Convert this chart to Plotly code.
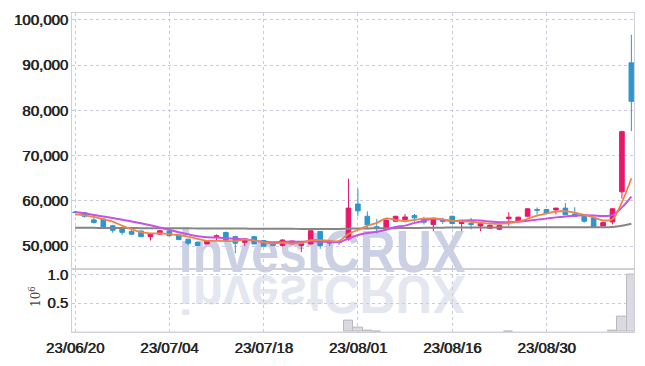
import base64
import plotly.graph_objects as go

# ---------------- data ----------------
dates = ["23/06/20", "23/06/21", "23/06/22", "23/06/23", "23/06/26", "23/06/27", "23/06/28", "23/06/29", "23/06/30", "23/07/03",
         "23/07/04", "23/07/05", "23/07/06", "23/07/07", "23/07/10", "23/07/11", "23/07/12", "23/07/13", "23/07/14", "23/07/17",
         "23/07/18", "23/07/19", "23/07/20", "23/07/21", "23/07/24", "23/07/25", "23/07/26", "23/07/27", "23/07/28", "23/07/31",
         "23/08/01", "23/08/02", "23/08/03", "23/08/04", "23/08/07", "23/08/08", "23/08/09", "23/08/10", "23/08/11", "23/08/14",
         "23/08/16", "23/08/17", "23/08/18", "23/08/21", "23/08/22", "23/08/23", "23/08/24", "23/08/25", "23/08/28", "23/08/29",
         "23/08/30", "23/08/31", "23/09/01", "23/09/04", "23/09/05", "23/09/06", "23/09/07", "23/09/08", "23/09/11", "23/09/12"]

opens = [57500, 57400, 55800, 56000, 54500, 54100, 53250, 53350, 52100, 52650,
         53350, 52500, 51550, 50850, 50500, 51950, 53000, 52100, 50850, 52100,
         51250, 50650, 50150, 50500, 50150, 50500, 53250, 50900, 50850, 51600,
         59300, 56600, 54300, 53700, 55500, 55900, 56750, 56000, 54800, 55700,
         56600, 55000, 55000, 54450, 53950, 53750, 56100, 55550, 56600, 58100,
         58100, 58000, 58400, 57100, 56600, 56250, 54450, 55350, 62000, 90500]
highs = [57800, 57500, 57100, 56100, 54700, 54200, 54300, 53400, 52800, 53500,
         53500, 52700, 51600, 50900, 51300, 52600, 53200, 52300, 51600, 52200,
         51300, 50700, 51500, 51200, 50700, 53500, 53300, 51100, 51000, 64900,
         62700, 57700, 56000, 55900, 56700, 57100, 57100, 56500, 56200, 56300,
         56700, 55800, 56250, 55100, 54800, 54700, 57500, 56500, 58400, 58550,
         58200, 58450, 59500, 58600, 56700, 56300, 55400, 58400, 75500, 96700]
lows = [57300, 56300, 55000, 54100, 52950, 52500, 52450, 52000, 51250, 52500,
        52200, 51400, 50200, 50100, 50400, 51200, 51100, 48400, 50000, 50400,
        49900, 50050, 49900, 50400, 48700, 50400, 49400, 50000, 50300, 51200,
        56600, 53900, 52800, 53500, 55300, 55400, 55400, 54800, 53300, 54900,
        54900, 53300, 53700, 53300, 53800, 53600, 54500, 55500, 56500, 57000,
        57000, 57000, 56900, 56400, 55200, 54100, 54400, 54800, 60500, 75400]
closes = [57450, 56600, 55250, 54250, 53500, 53050, 52650, 52100, 52800, 53400,
          52300, 51450, 50650, 50150, 51250, 52300, 51300, 50650, 51600, 50500,
          50000, 50150, 51350, 51100, 50650, 53400, 50150, 50700, 50800, 58400,
          57800, 54700, 54000, 55750, 56600, 56450, 56250, 55300, 56000, 55500,
          55000, 55650, 54800, 54950, 54600, 54600, 56400, 56400, 58250, 57950,
          57200, 58400, 56950, 56600, 55500, 54250, 55200, 58250, 75300, 82000]

ma5 = [57000, 56800, 56450, 55950, 55410, 54530, 53740, 53110, 52820, 52800,
       52650, 52410, 52120, 51590, 51160, 51160, 51130, 51130, 51420, 51270,
       50810, 50580, 50720, 50620, 50650, 51330, 51330, 51200, 51140, 52690,
       53570, 54480, 55140, 56130, 55770, 55500, 55810, 56070, 56120, 55900,
       55610, 55490, 55390, 55180, 55000, 54920, 55070, 55390, 56050, 56720,
       57240, 57640, 57750, 57420, 56930, 56340, 55700, 55960, 59700, 65000]
ma10 = [57550, 57250, 56900, 56550, 56200, 55850, 55450, 55050, 54600, 54105,
        53590, 53075, 52615, 52205, 51980, 51905, 51770, 51625, 51505, 51215,
        50985, 50855, 50925, 51020, 50960, 51070, 50955, 50960, 50880, 51670,
        52450, 52905, 53170, 53635, 54230, 54535, 55145, 55605, 56125, 55835,
        55555, 55650, 55730, 55650, 55450, 55265, 55280, 55390, 55615, 55860,
        56080, 56355, 56570, 56735, 56825, 56790, 56670, 56855, 58560, 60965]
ma60 = [54050, 54050, 54040, 54030, 54020, 54000, 53990, 53980, 53970, 53960,
        53950, 53940, 53930, 53920, 53910, 53900, 53890, 53880, 53870, 53860,
        53850, 53840, 53830, 53820, 53810, 53800, 53800, 53800, 53800, 53850,
        53900, 53920, 53940, 53960, 53980, 54000, 54020, 54040, 54060, 54080,
        54100, 54110, 54120, 54130, 54140, 54150, 54160, 54170, 54180, 54190,
        54200, 54200, 54200, 54200, 54200, 54180, 54160, 54250, 54530, 54940]

# volume in millions of shares
volume = [0.004, 0.003, 0.003, 0.004, 0.003, 0.003, 0.002, 0.003, 0.002, 0.003,
          0.002, 0.003, 0.003, 0.002, 0.002, 0.003, 0.003, 0.004, 0.002, 0.003,
          0.002, 0.002, 0.003, 0.002, 0.003, 0.006, 0.005, 0.003, 0.003, 0.190,
          0.085, 0.020, 0.015, 0.006, 0.005, 0.004, 0.004, 0.003, 0.005, 0.003,
          0.004, 0.004, 0.004, 0.003, 0.003, 0.003, 0.010, 0.004, 0.006, 0.004,
          0.004, 0.004, 0.005, 0.004, 0.004, 0.005, 0.004, 0.020, 0.270, 0.990]

price_ticks = [50000, 60000, 70000, 80000, 90000, 100000]
vol_ticks = [0.5, 1.0]
vol_tick_text = ["0.5", "1.0"]
vol_unit = "10<sup>6</sup>"

# ---------------- styles ----------------
INC = "#e6186b"
DEC = "#2c96cf"
GRID = "#c9cadf"
BORDER = "#cfd0d8"
FONT = "Liberation Sans Narrow, Arial Narrow, sans-serif"

idx = list(range(len(dates)))
tick_pos = idx[::10]
tick_text = dates[::10]
xr = [-0.32, 59.28]
vol_outline = [1 if v >= 0.01 else 0 for v in volume]

fig = go.Figure()
fig.add_trace(go.Candlestick(
    x=idx, open=opens, high=highs, low=lows, close=closes,
    increasing=dict(line=dict(color=INC, width=1), fillcolor=INC),
    decreasing=dict(line=dict(color=DEC, width=1), fillcolor=DEC),
    whiskerwidth=0, xaxis="x", yaxis="y", showlegend=False, name="price"))
fig.add_trace(go.Scatter(x=idx, y=ma60, mode="lines", line=dict(color="#858585", width=2, shape="spline"),
                         xaxis="x", yaxis="y", showlegend=False))
fig.add_trace(go.Scatter(x=idx, y=ma10, mode="lines", line=dict(color="#c452e4", width=2, shape="spline"),
                         xaxis="x", yaxis="y", showlegend=False))
fig.add_trace(go.Scatter(x=idx, y=ma5, mode="lines", line=dict(color="#f08448", width=1.8, shape="spline"),
                         xaxis="x", yaxis="y", showlegend=False))
fig.add_trace(go.Bar(x=idx, y=volume,
                     marker=dict(color="#dadae0", line=dict(color="#b9b9c2", width=vol_outline)),
                     xaxis="x2", yaxis="y2", showlegend=False))

# watermark with reflection (svg image)
svg = (
    "<svg xmlns='http://www.w3.org/2000/svg' width='300' height='100' viewBox='0 0 300 100'>"
    "<text x='3' y='51' font-family='Liberation Sans, Arial, sans-serif' font-weight='bold' font-size='60' "
    "fill='#cbd0e4' textLength='287' lengthAdjust='spacingAndGlyphs'>investCRUX</text>"
    "<g transform='translate(0,102) scale(1,-0.92)'>"
    "<text x='3' y='51' font-family='Liberation Sans, Arial, sans-serif' font-weight='bold' font-size='60' "
    "fill='#e4e7f0' textLength='287' lengthAdjust='spacingAndGlyphs'>investCRUX</text></g>"
    "</svg>"
)
src = "data:image/svg+xml;base64," + base64.b64encode(svg.encode()).decode()
fig.add_layout_image(dict(source=src, xref="paper", yref="paper", x=(176 - 72) / 563, y=(337 - 225) / 327,
                          sizex=300 / 563, sizey=100 / 327, sizing="stretch", xanchor="left", yanchor="top",
                          layer="below", opacity=1))

split = 65 / 327
tickfont = dict(family=FONT, size=15, color="#222222", shadow="0.7px 0 0 #222222")
fig.update_layout(
    width=645, height=366,
    margin=dict(l=72, r=10, t=10, b=29),
    paper_bgcolor="white", plot_bgcolor="white",
    bargap=0, showlegend=False,
    xaxis=dict(domain=[0, 1], anchor="y", range=xr, tickvals=tick_pos, showticklabels=False,
               showgrid=True, gridcolor=GRID, griddash="dot", gridwidth=1,
               showline=True, mirror=True, linecolor=BORDER, linewidth=1, zeroline=False,
               rangeslider=dict(visible=False), ticks=""),
    yaxis=dict(domain=[split, 1], anchor="x", range=[45040, 101510], tickvals=price_ticks,
               tickformat=",", tickfont=tickfont, showgrid=True, gridcolor=GRID, griddash="dot",
               showline=True, mirror=True, linecolor=BORDER, linewidth=1, zeroline=False, ticks=""),
    xaxis2=dict(domain=[0, 1], anchor="y2", range=xr, tickvals=tick_pos, ticktext=tick_text,
                tickfont=tickfont, showgrid=True, gridcolor=GRID, griddash="dot", ticklabelstandoff=2,
                showline=True, mirror=True, linecolor=BORDER, linewidth=1, zeroline=False, ticks=""),
    yaxis2=dict(domain=[0, split], anchor="x2", range=[0, 1.1], tickvals=vol_ticks, ticktext=vol_tick_text,
                tickfont=tickfont, showgrid=True, gridcolor=GRID, griddash="dot",
                showline=True, mirror=True, linecolor=BORDER, linewidth=1, zeroline=False, ticks=""),
    annotations=[dict(text=vol_unit, xref="paper", yref="paper", x=(35 - 72) / 563, y=(337 - 301) / 327,
                      xanchor="center", yanchor="middle", showarrow=False, textangle=-90,
                      font=dict(family="DejaVu Serif, serif", size=12, color="#444444"))],
)

fig.write_html("out.html")
